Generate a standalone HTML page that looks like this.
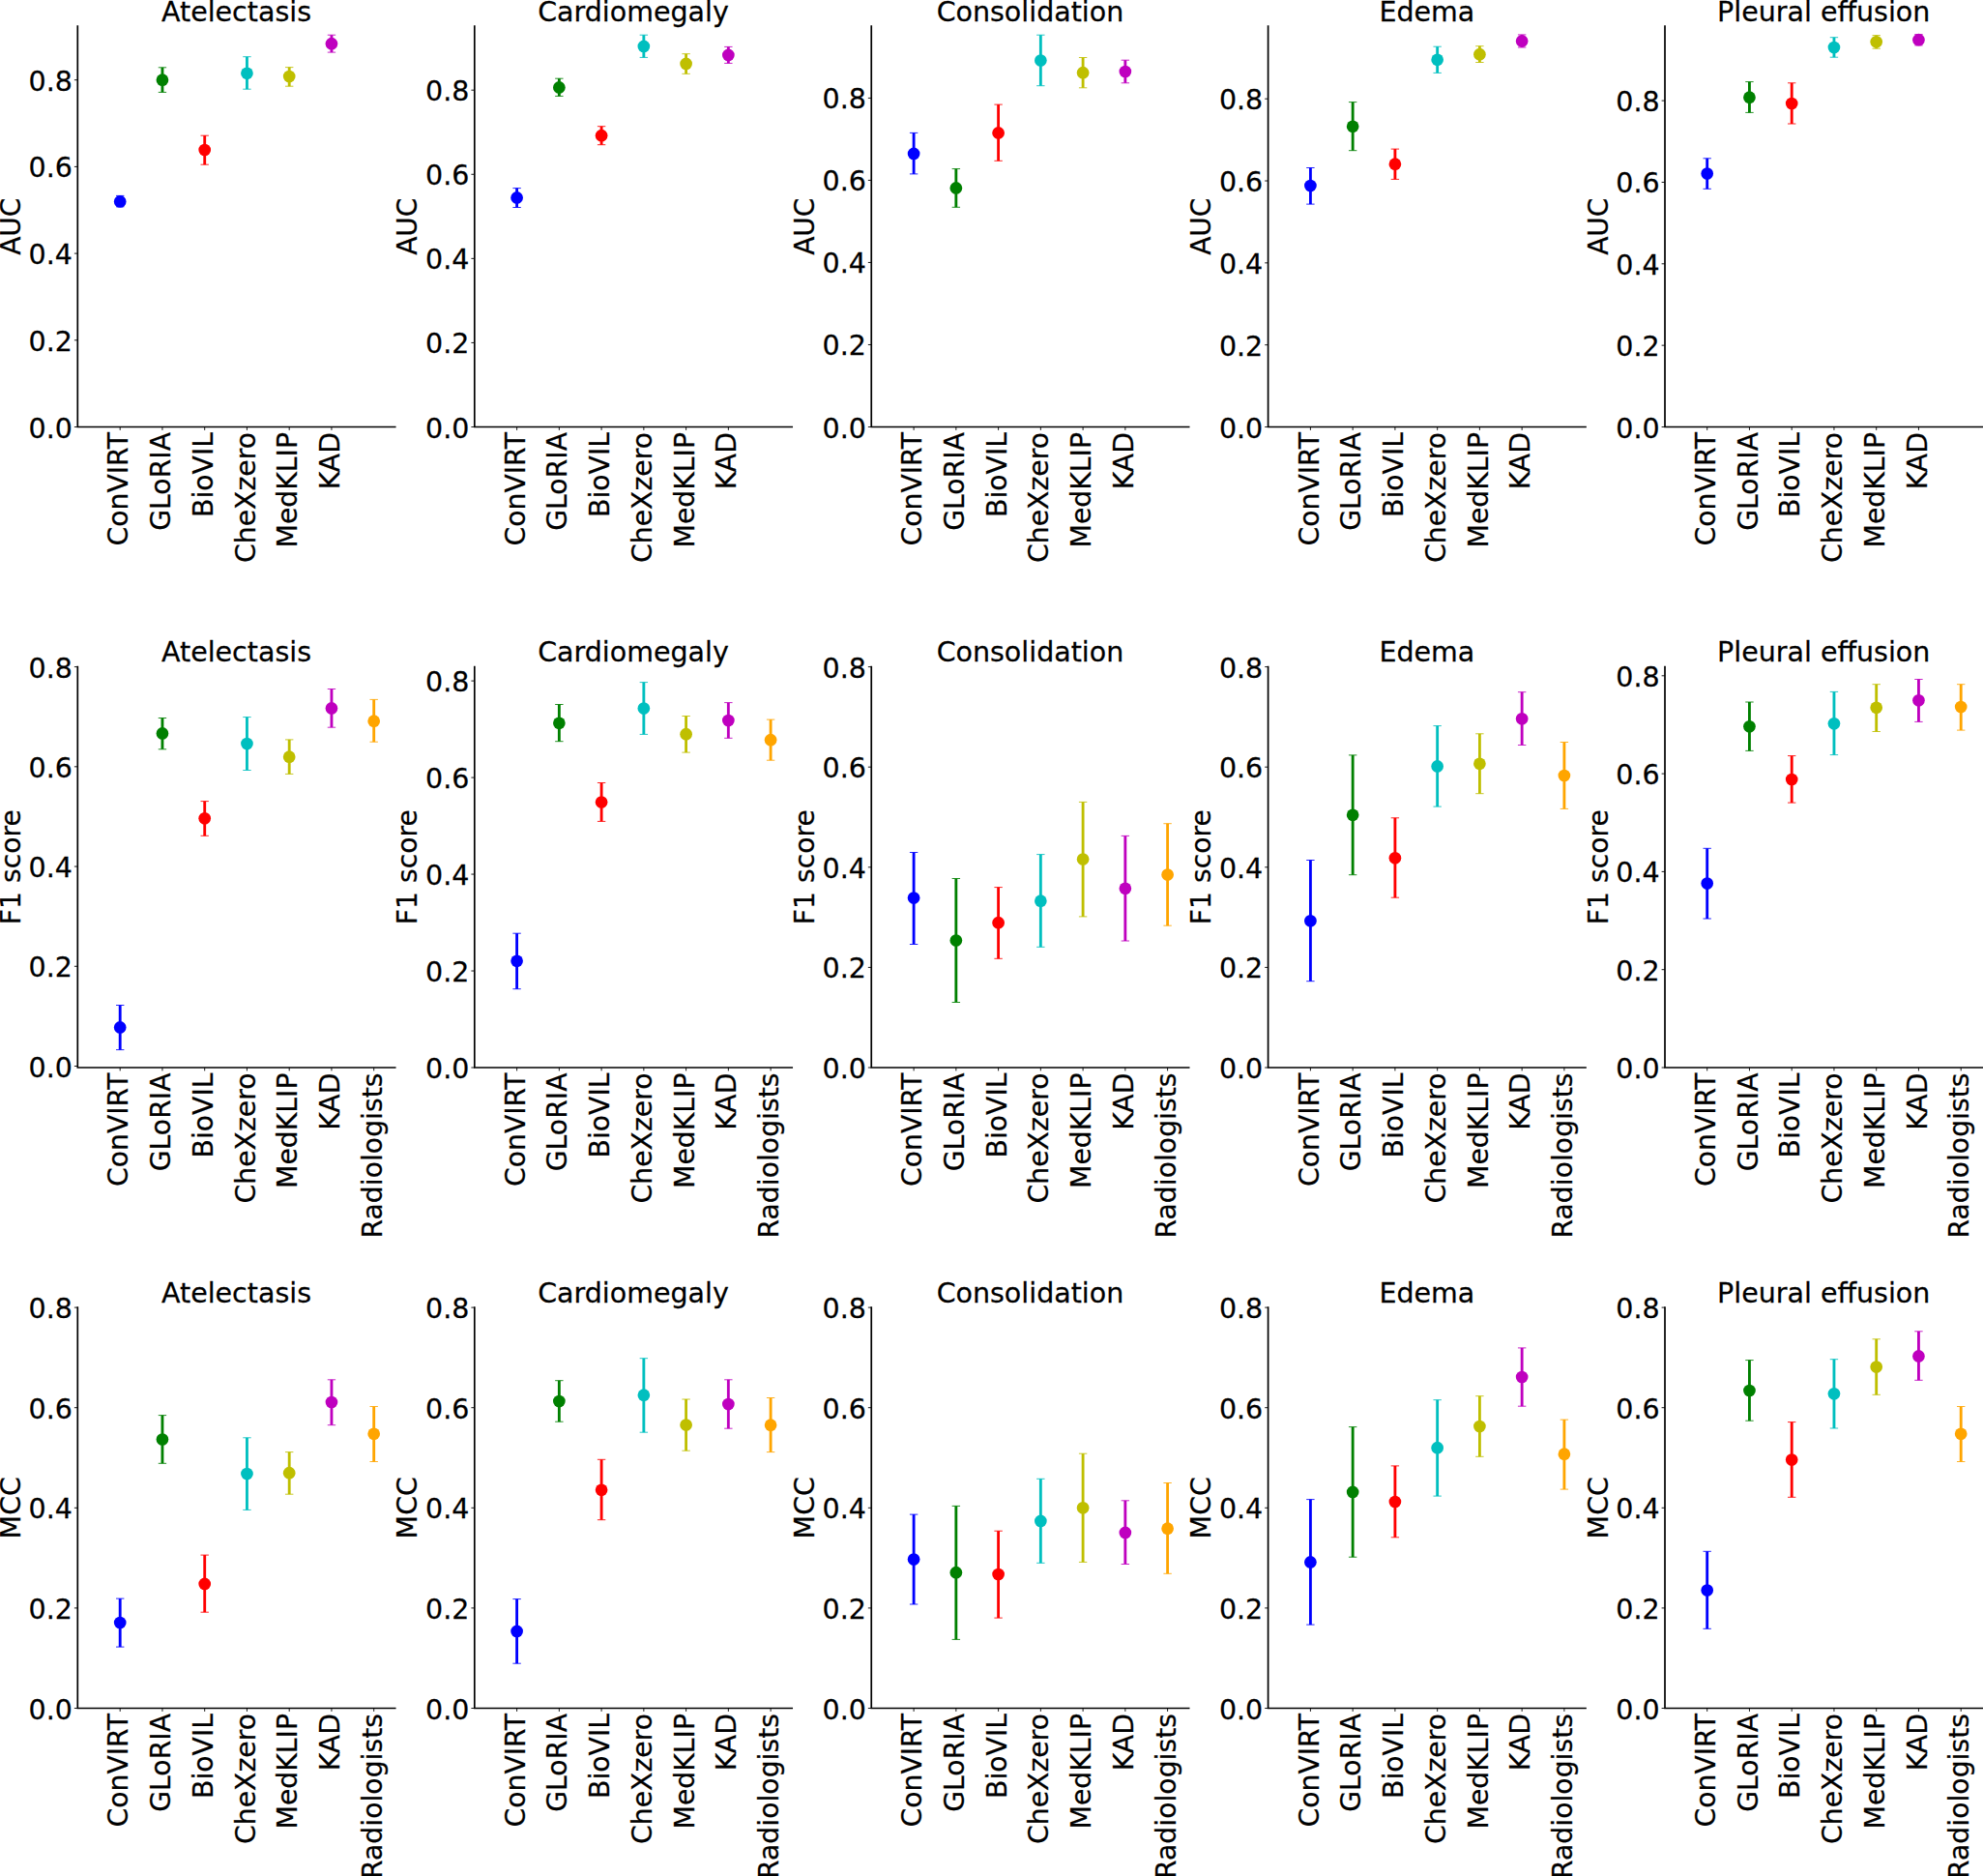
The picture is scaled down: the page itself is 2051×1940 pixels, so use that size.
<!DOCTYPE html>
<html lang="en"><head><meta charset="utf-8"><title>Zero-shot comparison: AUC, F1 score, MCC</title>
<style>html,body{margin:0;padding:0;background:#fff}svg{display:block}text{font-family:"DejaVu Sans","Liberation Sans",sans-serif;font-size:29.17px;fill:#000;stroke:#000;stroke-width:0.25px}.sp{stroke:#000;stroke-width:1.7;stroke-linecap:square;fill:none}.tk{stroke:#000;stroke-width:0.9;fill:none}.e{stroke-width:2.85;fill:none}.c{stroke-width:0.85;fill:none}.yl{text-anchor:end}.ti,.ax{text-anchor:middle}.xl{text-anchor:end}</style></head><body>
<svg width="2051" height="1940" viewBox="0 0 2051 1940">
<rect width="2051" height="1940" fill="#fff"/>
<g>
<text class="ti" transform="translate(244.5,21.7) scale(0.977,1)">Atelectasis</text>
<text class="ax" transform="translate(20.95,234.2) rotate(-90) scale(0.962,1)">AUC</text>
<path class="sp" d="M80.3 27.1V441.5H408.7"/>
<text class="yl" transform="translate(74.9,452.5) scale(0.977,1)">0.0</text>
<text class="yl" transform="translate(74.9,362.8) scale(0.977,1)">0.2</text>
<text class="yl" transform="translate(74.9,273.1) scale(0.977,1)">0.4</text>
<text class="yl" transform="translate(74.9,183.4) scale(0.977,1)">0.6</text>
<text class="yl" transform="translate(74.9,93.7) scale(0.977,1)">0.8</text>
<path class="tk" d="M76.9 441.5h3.4M76.9 351.8h3.4M76.9 262.1h3.4M76.9 172.4h3.4M76.9 82.7h3.4M124.2 441.5v3.4M167.95 441.5v3.4M211.7 441.5v3.4M255.45 441.5v3.4M299.2 441.5v3.4M342.95 441.5v3.4"/>
<text class="xl" transform="translate(132.3,447) rotate(-90) scale(0.97,1)">ConVIRT</text>
<text class="xl" transform="translate(176.05,447) rotate(-90) scale(0.97,1)">GLoRIA</text>
<text class="xl" transform="translate(219.8,447) rotate(-90) scale(0.97,1)">BioVIL</text>
<text class="xl" transform="translate(263.55,447) rotate(-90) scale(0.97,1)">CheXzero</text>
<text class="xl" transform="translate(307.3,447) rotate(-90) scale(0.97,1)">MedKLIP</text>
<text class="xl" transform="translate(351.05,447) rotate(-90) scale(0.97,1)">KAD</text>
<g stroke="#0000ff" fill="#0000ff"><path class="e" d="M124.2 202.4V213.8"/><path class="c" d="M120 202.4h8.4M120 213.8h8.4"/><circle cx="124.2" cy="208.4" r="6.35" stroke="none"/></g>
<g stroke="#008000" fill="#008000"><path class="e" d="M167.95 69.8V95.4"/><path class="c" d="M163.75 69.8h8.4M163.75 95.4h8.4"/><circle cx="167.95" cy="82.7" r="6.35" stroke="none"/></g>
<g stroke="#ff0000" fill="#ff0000"><path class="e" d="M211.7 140.2V170.2"/><path class="c" d="M207.5 140.2h8.4M207.5 170.2h8.4"/><circle cx="211.7" cy="155" r="6.35" stroke="none"/></g>
<g stroke="#00bfbf" fill="#00bfbf"><path class="e" d="M255.45 58.7V92.2"/><path class="c" d="M251.25 58.7h8.4M251.25 92.2h8.4"/><circle cx="255.45" cy="75.8" r="6.35" stroke="none"/></g>
<g stroke="#bfbf00" fill="#bfbf00"><path class="e" d="M299.2 69.6V89.2"/><path class="c" d="M295 69.6h8.4M295 89.2h8.4"/><circle cx="299.2" cy="79.1" r="6.35" stroke="none"/></g>
<g stroke="#bf00bf" fill="#bf00bf"><path class="e" d="M342.95 36.2V54.1"/><path class="c" d="M338.75 36.2h8.4M338.75 54.1h8.4"/><circle cx="342.95" cy="45.2" r="6.35" stroke="none"/></g>
</g>
<g>
<text class="ti" transform="translate(655,21.7) scale(0.977,1)">Cardiomegaly</text>
<text class="ax" transform="translate(431.45,234.2) rotate(-90) scale(0.962,1)">AUC</text>
<path class="sp" d="M490.8 27.1V441.5H819.2"/>
<text class="yl" transform="translate(485.4,452.5) scale(0.977,1)">0.0</text>
<text class="yl" transform="translate(485.4,365.43) scale(0.977,1)">0.2</text>
<text class="yl" transform="translate(485.4,278.35) scale(0.977,1)">0.4</text>
<text class="yl" transform="translate(485.4,191.27) scale(0.977,1)">0.6</text>
<text class="yl" transform="translate(485.4,104.2) scale(0.977,1)">0.8</text>
<path class="tk" d="M487.4 441.5h3.4M487.4 354.43h3.4M487.4 267.35h3.4M487.4 180.27h3.4M487.4 93.2h3.4M534.6 441.5v3.4M578.35 441.5v3.4M622.1 441.5v3.4M665.85 441.5v3.4M709.6 441.5v3.4M753.35 441.5v3.4"/>
<text class="xl" transform="translate(542.7,447) rotate(-90) scale(0.97,1)">ConVIRT</text>
<text class="xl" transform="translate(586.45,447) rotate(-90) scale(0.97,1)">GLoRIA</text>
<text class="xl" transform="translate(630.2,447) rotate(-90) scale(0.97,1)">BioVIL</text>
<text class="xl" transform="translate(673.95,447) rotate(-90) scale(0.97,1)">CheXzero</text>
<text class="xl" transform="translate(717.7,447) rotate(-90) scale(0.97,1)">MedKLIP</text>
<text class="xl" transform="translate(761.45,447) rotate(-90) scale(0.97,1)">KAD</text>
<g stroke="#0000ff" fill="#0000ff"><path class="e" d="M534.6 194.6V214.5"/><path class="c" d="M530.4 194.6h8.4M530.4 214.5h8.4"/><circle cx="534.6" cy="204.4" r="6.35" stroke="none"/></g>
<g stroke="#008000" fill="#008000"><path class="e" d="M578.35 81.2V99.4"/><path class="c" d="M574.15 81.2h8.4M574.15 99.4h8.4"/><circle cx="578.35" cy="90.4" r="6.35" stroke="none"/></g>
<g stroke="#ff0000" fill="#ff0000"><path class="e" d="M622.1 130.7V149.7"/><path class="c" d="M617.9 130.7h8.4M617.9 149.7h8.4"/><circle cx="622.1" cy="140.2" r="6.35" stroke="none"/></g>
<g stroke="#00bfbf" fill="#00bfbf"><path class="e" d="M665.85 36.2V59.4"/><path class="c" d="M661.65 36.2h8.4M661.65 59.4h8.4"/><circle cx="665.85" cy="47.9" r="6.35" stroke="none"/></g>
<g stroke="#bfbf00" fill="#bfbf00"><path class="e" d="M709.6 55.7V76.3"/><path class="c" d="M705.4 55.7h8.4M705.4 76.3h8.4"/><circle cx="709.6" cy="65.9" r="6.35" stroke="none"/></g>
<g stroke="#bf00bf" fill="#bf00bf"><path class="e" d="M753.35 48.4V65.4"/><path class="c" d="M749.15 48.4h8.4M749.15 65.4h8.4"/><circle cx="753.35" cy="56.9" r="6.35" stroke="none"/></g>
</g>
<g>
<text class="ti" transform="translate(1065.45,21.7) scale(0.977,1)">Consolidation</text>
<text class="ax" transform="translate(841.9,234.2) rotate(-90) scale(0.962,1)">AUC</text>
<path class="sp" d="M901.25 27.1V441.5H1229.65"/>
<text class="yl" transform="translate(895.85,452.5) scale(0.977,1)">0.0</text>
<text class="yl" transform="translate(895.85,367.48) scale(0.977,1)">0.2</text>
<text class="yl" transform="translate(895.85,282.45) scale(0.977,1)">0.4</text>
<text class="yl" transform="translate(895.85,197.42) scale(0.977,1)">0.6</text>
<text class="yl" transform="translate(895.85,112.4) scale(0.977,1)">0.8</text>
<path class="tk" d="M897.85 441.5h3.4M897.85 356.48h3.4M897.85 271.45h3.4M897.85 186.42h3.4M897.85 101.4h3.4M945.1 441.5v3.4M988.85 441.5v3.4M1032.6 441.5v3.4M1076.35 441.5v3.4M1120.1 441.5v3.4M1163.85 441.5v3.4"/>
<text class="xl" transform="translate(953.2,447) rotate(-90) scale(0.97,1)">ConVIRT</text>
<text class="xl" transform="translate(996.95,447) rotate(-90) scale(0.97,1)">GLoRIA</text>
<text class="xl" transform="translate(1040.7,447) rotate(-90) scale(0.97,1)">BioVIL</text>
<text class="xl" transform="translate(1084.45,447) rotate(-90) scale(0.97,1)">CheXzero</text>
<text class="xl" transform="translate(1128.2,447) rotate(-90) scale(0.97,1)">MedKLIP</text>
<text class="xl" transform="translate(1171.95,447) rotate(-90) scale(0.97,1)">KAD</text>
<g stroke="#0000ff" fill="#0000ff"><path class="e" d="M945.1 137.4V179.9"/><path class="c" d="M940.9 137.4h8.4M940.9 179.9h8.4"/><circle cx="945.1" cy="158.9" r="6.35" stroke="none"/></g>
<g stroke="#008000" fill="#008000"><path class="e" d="M988.85 174.6V214.3"/><path class="c" d="M984.65 174.6h8.4M984.65 214.3h8.4"/><circle cx="988.85" cy="194.4" r="6.35" stroke="none"/></g>
<g stroke="#ff0000" fill="#ff0000"><path class="e" d="M1032.6 108.1V166.3"/><path class="c" d="M1028.4 108.1h8.4M1028.4 166.3h8.4"/><circle cx="1032.6" cy="137.4" r="6.35" stroke="none"/></g>
<g stroke="#00bfbf" fill="#00bfbf"><path class="e" d="M1076.35 36.2V88.7"/><path class="c" d="M1072.15 36.2h8.4M1072.15 88.7h8.4"/><circle cx="1076.35" cy="62.5" r="6.35" stroke="none"/></g>
<g stroke="#bfbf00" fill="#bfbf00"><path class="e" d="M1120.1 59.5V90.8"/><path class="c" d="M1115.9 59.5h8.4M1115.9 90.8h8.4"/><circle cx="1120.1" cy="75.2" r="6.35" stroke="none"/></g>
<g stroke="#bf00bf" fill="#bf00bf"><path class="e" d="M1163.85 62.2V85.8"/><path class="c" d="M1159.65 62.2h8.4M1159.65 85.8h8.4"/><circle cx="1163.85" cy="74" r="6.35" stroke="none"/></g>
</g>
<g>
<text class="ti" transform="translate(1475.8,21.7) scale(0.977,1)">Edema</text>
<text class="ax" transform="translate(1252.25,234.2) rotate(-90) scale(0.962,1)">AUC</text>
<path class="sp" d="M1311.6 27.1V441.5H1640"/>
<text class="yl" transform="translate(1306.2,452.5) scale(0.977,1)">0.0</text>
<text class="yl" transform="translate(1306.2,367.68) scale(0.977,1)">0.2</text>
<text class="yl" transform="translate(1306.2,282.85) scale(0.977,1)">0.4</text>
<text class="yl" transform="translate(1306.2,198.02) scale(0.977,1)">0.6</text>
<text class="yl" transform="translate(1306.2,113.2) scale(0.977,1)">0.8</text>
<path class="tk" d="M1308.2 441.5h3.4M1308.2 356.68h3.4M1308.2 271.85h3.4M1308.2 187.02h3.4M1308.2 102.2h3.4M1355.4 441.5v3.4M1399.15 441.5v3.4M1442.9 441.5v3.4M1486.65 441.5v3.4M1530.4 441.5v3.4M1574.15 441.5v3.4"/>
<text class="xl" transform="translate(1363.5,447) rotate(-90) scale(0.97,1)">ConVIRT</text>
<text class="xl" transform="translate(1407.25,447) rotate(-90) scale(0.97,1)">GLoRIA</text>
<text class="xl" transform="translate(1451,447) rotate(-90) scale(0.97,1)">BioVIL</text>
<text class="xl" transform="translate(1494.75,447) rotate(-90) scale(0.97,1)">CheXzero</text>
<text class="xl" transform="translate(1538.5,447) rotate(-90) scale(0.97,1)">MedKLIP</text>
<text class="xl" transform="translate(1582.25,447) rotate(-90) scale(0.97,1)">KAD</text>
<g stroke="#0000ff" fill="#0000ff"><path class="e" d="M1355.4 173.5V211.1"/><path class="c" d="M1351.2 173.5h8.4M1351.2 211.1h8.4"/><circle cx="1355.4" cy="192.1" r="6.35" stroke="none"/></g>
<g stroke="#008000" fill="#008000"><path class="e" d="M1399.15 105.6V155.7"/><path class="c" d="M1394.95 105.6h8.4M1394.95 155.7h8.4"/><circle cx="1399.15" cy="130.8" r="6.35" stroke="none"/></g>
<g stroke="#ff0000" fill="#ff0000"><path class="e" d="M1442.9 154.1V185.4"/><path class="c" d="M1438.7 154.1h8.4M1438.7 185.4h8.4"/><circle cx="1442.9" cy="169.7" r="6.35" stroke="none"/></g>
<g stroke="#00bfbf" fill="#00bfbf"><path class="e" d="M1486.65 48.2V75.4"/><path class="c" d="M1482.45 48.2h8.4M1482.45 75.4h8.4"/><circle cx="1486.65" cy="61.8" r="6.35" stroke="none"/></g>
<g stroke="#bfbf00" fill="#bfbf00"><path class="e" d="M1530.4 47.7V64.5"/><path class="c" d="M1526.2 47.7h8.4M1526.2 64.5h8.4"/><circle cx="1530.4" cy="56.2" r="6.35" stroke="none"/></g>
<g stroke="#bf00bf" fill="#bf00bf"><path class="e" d="M1574.15 35.9V49"/><path class="c" d="M1569.95 35.9h8.4M1569.95 49h8.4"/><circle cx="1574.15" cy="42.4" r="6.35" stroke="none"/></g>
</g>
<g>
<text class="ti" transform="translate(1886.2,21.7) scale(0.977,1)">Pleural effusion</text>
<text class="ax" transform="translate(1662.65,234.2) rotate(-90) scale(0.962,1)">AUC</text>
<path class="sp" d="M1722 27.1V441.5H2050.4"/>
<text class="yl" transform="translate(1716.6,452.5) scale(0.977,1)">0.0</text>
<text class="yl" transform="translate(1716.6,368.15) scale(0.977,1)">0.2</text>
<text class="yl" transform="translate(1716.6,283.8) scale(0.977,1)">0.4</text>
<text class="yl" transform="translate(1716.6,199.45) scale(0.977,1)">0.6</text>
<text class="yl" transform="translate(1716.6,115.1) scale(0.977,1)">0.8</text>
<path class="tk" d="M1718.6 441.5h3.4M1718.6 357.15h3.4M1718.6 272.8h3.4M1718.6 188.45h3.4M1718.6 104.1h3.4M1765.7 441.5v3.4M1809.45 441.5v3.4M1853.2 441.5v3.4M1896.95 441.5v3.4M1940.7 441.5v3.4M1984.45 441.5v3.4"/>
<text class="xl" transform="translate(1773.8,447) rotate(-90) scale(0.97,1)">ConVIRT</text>
<text class="xl" transform="translate(1817.55,447) rotate(-90) scale(0.97,1)">GLoRIA</text>
<text class="xl" transform="translate(1861.3,447) rotate(-90) scale(0.97,1)">BioVIL</text>
<text class="xl" transform="translate(1905.05,447) rotate(-90) scale(0.97,1)">CheXzero</text>
<text class="xl" transform="translate(1948.8,447) rotate(-90) scale(0.97,1)">MedKLIP</text>
<text class="xl" transform="translate(1992.55,447) rotate(-90) scale(0.97,1)">KAD</text>
<g stroke="#0000ff" fill="#0000ff"><path class="e" d="M1765.7 163.8V195.3"/><path class="c" d="M1761.5 163.8h8.4M1761.5 195.3h8.4"/><circle cx="1765.7" cy="179.5" r="6.35" stroke="none"/></g>
<g stroke="#008000" fill="#008000"><path class="e" d="M1809.45 84.6V116.4"/><path class="c" d="M1805.25 84.6h8.4M1805.25 116.4h8.4"/><circle cx="1809.45" cy="100.7" r="6.35" stroke="none"/></g>
<g stroke="#ff0000" fill="#ff0000"><path class="e" d="M1853.2 85.8V128"/><path class="c" d="M1849 85.8h8.4M1849 128h8.4"/><circle cx="1853.2" cy="107" r="6.35" stroke="none"/></g>
<g stroke="#00bfbf" fill="#00bfbf"><path class="e" d="M1896.95 38.7V59.2"/><path class="c" d="M1892.75 38.7h8.4M1892.75 59.2h8.4"/><circle cx="1896.95" cy="49.1" r="6.35" stroke="none"/></g>
<g stroke="#bfbf00" fill="#bfbf00"><path class="e" d="M1940.7 36.6V50.2"/><path class="c" d="M1936.5 36.6h8.4M1936.5 50.2h8.4"/><circle cx="1940.7" cy="43.3" r="6.35" stroke="none"/></g>
<g stroke="#bf00bf" fill="#bf00bf"><path class="e" d="M1984.45 35.6V46.9"/><path class="c" d="M1980.25 35.6h8.4M1980.25 46.9h8.4"/><circle cx="1984.45" cy="41.2" r="6.35" stroke="none"/></g>
</g>
<g>
<text class="ti" transform="translate(244.5,684.2) scale(0.977,1)">Atelectasis</text>
<text class="ax" transform="translate(20.95,896.7) rotate(-90) scale(0.968,1)">F1 score</text>
<path class="sp" d="M80.3 689.6V1104H408.7"/>
<text class="yl" transform="translate(74.9,1113.5) scale(0.977,1)">0.0</text>
<text class="yl" transform="translate(74.9,1010.27) scale(0.977,1)">0.2</text>
<text class="yl" transform="translate(74.9,907.05) scale(0.977,1)">0.4</text>
<text class="yl" transform="translate(74.9,803.83) scale(0.977,1)">0.6</text>
<text class="yl" transform="translate(74.9,700.6) scale(0.977,1)">0.8</text>
<path class="tk" d="M76.9 1102.5h3.4M76.9 999.27h3.4M76.9 896.05h3.4M76.9 792.83h3.4M76.9 689.6h3.4M124.2 1104v3.4M167.95 1104v3.4M211.7 1104v3.4M255.45 1104v3.4M299.2 1104v3.4M342.95 1104v3.4M386.7 1104v3.4"/>
<text class="xl" transform="translate(132.3,1109.5) rotate(-90) scale(0.97,1)">ConVIRT</text>
<text class="xl" transform="translate(176.05,1109.5) rotate(-90) scale(0.97,1)">GLoRIA</text>
<text class="xl" transform="translate(219.8,1109.5) rotate(-90) scale(0.97,1)">BioVIL</text>
<text class="xl" transform="translate(263.55,1109.5) rotate(-90) scale(0.97,1)">CheXzero</text>
<text class="xl" transform="translate(307.3,1109.5) rotate(-90) scale(0.97,1)">MedKLIP</text>
<text class="xl" transform="translate(351.05,1109.5) rotate(-90) scale(0.97,1)">KAD</text>
<text class="xl" transform="translate(394.8,1109.5) rotate(-90) scale(0.97,1)">Radiologists</text>
<g stroke="#0000ff" fill="#0000ff"><path class="e" d="M124.2 1039.5V1085.6"/><path class="c" d="M120 1039.5h8.4M120 1085.6h8.4"/><circle cx="124.2" cy="1062.4" r="6.35" stroke="none"/></g>
<g stroke="#008000" fill="#008000"><path class="e" d="M167.95 742.5V774.8"/><path class="c" d="M163.75 742.5h8.4M163.75 774.8h8.4"/><circle cx="167.95" cy="758.4" r="6.35" stroke="none"/></g>
<g stroke="#ff0000" fill="#ff0000"><path class="e" d="M211.7 828.6V864.3"/><path class="c" d="M207.5 828.6h8.4M207.5 864.3h8.4"/><circle cx="211.7" cy="846.3" r="6.35" stroke="none"/></g>
<g stroke="#00bfbf" fill="#00bfbf"><path class="e" d="M255.45 741.6V796.5"/><path class="c" d="M251.25 741.6h8.4M251.25 796.5h8.4"/><circle cx="255.45" cy="769.1" r="6.35" stroke="none"/></g>
<g stroke="#bfbf00" fill="#bfbf00"><path class="e" d="M299.2 764.9V800.4"/><path class="c" d="M295 764.9h8.4M295 800.4h8.4"/><circle cx="299.2" cy="782.7" r="6.35" stroke="none"/></g>
<g stroke="#bf00bf" fill="#bf00bf"><path class="e" d="M342.95 712.5V752.2"/><path class="c" d="M338.75 712.5h8.4M338.75 752.2h8.4"/><circle cx="342.95" cy="732.4" r="6.35" stroke="none"/></g>
<g stroke="#ffa500" fill="#ffa500"><path class="e" d="M386.7 723.4V767.2"/><path class="c" d="M382.5 723.4h8.4M382.5 767.2h8.4"/><circle cx="386.7" cy="745.7" r="6.35" stroke="none"/></g>
</g>
<g>
<text class="ti" transform="translate(655,684.2) scale(0.977,1)">Cardiomegaly</text>
<text class="ax" transform="translate(431.45,896.7) rotate(-90) scale(0.968,1)">F1 score</text>
<path class="sp" d="M490.8 689.6V1104H819.2"/>
<text class="yl" transform="translate(485.4,1115) scale(0.977,1)">0.0</text>
<text class="yl" transform="translate(485.4,1015.02) scale(0.977,1)">0.2</text>
<text class="yl" transform="translate(485.4,915.05) scale(0.977,1)">0.4</text>
<text class="yl" transform="translate(485.4,815.08) scale(0.977,1)">0.6</text>
<text class="yl" transform="translate(485.4,715.1) scale(0.977,1)">0.8</text>
<path class="tk" d="M487.4 1104h3.4M487.4 1004.02h3.4M487.4 904.05h3.4M487.4 804.08h3.4M487.4 704.1h3.4M534.6 1104v3.4M578.35 1104v3.4M622.1 1104v3.4M665.85 1104v3.4M709.6 1104v3.4M753.35 1104v3.4M797.1 1104v3.4"/>
<text class="xl" transform="translate(542.7,1109.5) rotate(-90) scale(0.97,1)">ConVIRT</text>
<text class="xl" transform="translate(586.45,1109.5) rotate(-90) scale(0.97,1)">GLoRIA</text>
<text class="xl" transform="translate(630.2,1109.5) rotate(-90) scale(0.97,1)">BioVIL</text>
<text class="xl" transform="translate(673.95,1109.5) rotate(-90) scale(0.97,1)">CheXzero</text>
<text class="xl" transform="translate(717.7,1109.5) rotate(-90) scale(0.97,1)">MedKLIP</text>
<text class="xl" transform="translate(761.45,1109.5) rotate(-90) scale(0.97,1)">KAD</text>
<text class="xl" transform="translate(805.2,1109.5) rotate(-90) scale(0.97,1)">Radiologists</text>
<g stroke="#0000ff" fill="#0000ff"><path class="e" d="M534.6 965.2V1022.7"/><path class="c" d="M530.4 965.2h8.4M530.4 1022.7h8.4"/><circle cx="534.6" cy="993.8" r="6.35" stroke="none"/></g>
<g stroke="#008000" fill="#008000"><path class="e" d="M578.35 728.5V766.7"/><path class="c" d="M574.15 728.5h8.4M574.15 766.7h8.4"/><circle cx="578.35" cy="747.8" r="6.35" stroke="none"/></g>
<g stroke="#ff0000" fill="#ff0000"><path class="e" d="M622.1 809.5V849.4"/><path class="c" d="M617.9 809.5h8.4M617.9 849.4h8.4"/><circle cx="622.1" cy="829.5" r="6.35" stroke="none"/></g>
<g stroke="#00bfbf" fill="#00bfbf"><path class="e" d="M665.85 705.6V759.4"/><path class="c" d="M661.65 705.6h8.4M661.65 759.4h8.4"/><circle cx="665.85" cy="732.6" r="6.35" stroke="none"/></g>
<g stroke="#bfbf00" fill="#bfbf00"><path class="e" d="M709.6 740.5V778.1"/><path class="c" d="M705.4 740.5h8.4M705.4 778.1h8.4"/><circle cx="709.6" cy="759.2" r="6.35" stroke="none"/></g>
<g stroke="#bf00bf" fill="#bf00bf"><path class="e" d="M753.35 726.6V763.3"/><path class="c" d="M749.15 726.6h8.4M749.15 763.3h8.4"/><circle cx="753.35" cy="745.1" r="6.35" stroke="none"/></g>
<g stroke="#ffa500" fill="#ffa500"><path class="e" d="M797.1 744.1V786.2"/><path class="c" d="M792.9 744.1h8.4M792.9 786.2h8.4"/><circle cx="797.1" cy="765.2" r="6.35" stroke="none"/></g>
</g>
<g>
<text class="ti" transform="translate(1065.45,684.2) scale(0.977,1)">Consolidation</text>
<text class="ax" transform="translate(841.9,896.7) rotate(-90) scale(0.968,1)">F1 score</text>
<path class="sp" d="M901.25 689.6V1104H1229.65"/>
<text class="yl" transform="translate(895.85,1115) scale(0.977,1)">0.0</text>
<text class="yl" transform="translate(895.85,1011.4) scale(0.977,1)">0.2</text>
<text class="yl" transform="translate(895.85,907.8) scale(0.977,1)">0.4</text>
<text class="yl" transform="translate(895.85,804.2) scale(0.977,1)">0.6</text>
<text class="yl" transform="translate(895.85,700.6) scale(0.977,1)">0.8</text>
<path class="tk" d="M897.85 1104h3.4M897.85 1000.4h3.4M897.85 896.8h3.4M897.85 793.2h3.4M897.85 689.6h3.4M945.1 1104v3.4M988.85 1104v3.4M1032.6 1104v3.4M1076.35 1104v3.4M1120.1 1104v3.4M1163.85 1104v3.4M1207.6 1104v3.4"/>
<text class="xl" transform="translate(953.2,1109.5) rotate(-90) scale(0.97,1)">ConVIRT</text>
<text class="xl" transform="translate(996.95,1109.5) rotate(-90) scale(0.97,1)">GLoRIA</text>
<text class="xl" transform="translate(1040.7,1109.5) rotate(-90) scale(0.97,1)">BioVIL</text>
<text class="xl" transform="translate(1084.45,1109.5) rotate(-90) scale(0.97,1)">CheXzero</text>
<text class="xl" transform="translate(1128.2,1109.5) rotate(-90) scale(0.97,1)">MedKLIP</text>
<text class="xl" transform="translate(1171.95,1109.5) rotate(-90) scale(0.97,1)">KAD</text>
<text class="xl" transform="translate(1215.7,1109.5) rotate(-90) scale(0.97,1)">Radiologists</text>
<g stroke="#0000ff" fill="#0000ff"><path class="e" d="M945.1 881.5V976.5"/><path class="c" d="M940.9 881.5h8.4M940.9 976.5h8.4"/><circle cx="945.1" cy="928.6" r="6.35" stroke="none"/></g>
<g stroke="#008000" fill="#008000"><path class="e" d="M988.85 908.5V1036.5"/><path class="c" d="M984.65 908.5h8.4M984.65 1036.5h8.4"/><circle cx="988.85" cy="972.5" r="6.35" stroke="none"/></g>
<g stroke="#ff0000" fill="#ff0000"><path class="e" d="M1032.6 917.6V991.3"/><path class="c" d="M1028.4 917.6h8.4M1028.4 991.3h8.4"/><circle cx="1032.6" cy="954.2" r="6.35" stroke="none"/></g>
<g stroke="#00bfbf" fill="#00bfbf"><path class="e" d="M1076.35 883.6V979.3"/><path class="c" d="M1072.15 883.6h8.4M1072.15 979.3h8.4"/><circle cx="1076.35" cy="931.7" r="6.35" stroke="none"/></g>
<g stroke="#bfbf00" fill="#bfbf00"><path class="e" d="M1120.1 829.4V947.9"/><path class="c" d="M1115.9 829.4h8.4M1115.9 947.9h8.4"/><circle cx="1120.1" cy="888.5" r="6.35" stroke="none"/></g>
<g stroke="#bf00bf" fill="#bf00bf"><path class="e" d="M1163.85 864.4V973"/><path class="c" d="M1159.65 864.4h8.4M1159.65 973h8.4"/><circle cx="1163.85" cy="918.8" r="6.35" stroke="none"/></g>
<g stroke="#ffa500" fill="#ffa500"><path class="e" d="M1207.6 851.7V957.2"/><path class="c" d="M1203.4 851.7h8.4M1203.4 957.2h8.4"/><circle cx="1207.6" cy="904.5" r="6.35" stroke="none"/></g>
</g>
<g>
<text class="ti" transform="translate(1475.8,684.2) scale(0.977,1)">Edema</text>
<text class="ax" transform="translate(1252.25,896.7) rotate(-90) scale(0.968,1)">F1 score</text>
<path class="sp" d="M1311.6 689.6V1104H1640"/>
<text class="yl" transform="translate(1306.2,1115) scale(0.977,1)">0.0</text>
<text class="yl" transform="translate(1306.2,1011.4) scale(0.977,1)">0.2</text>
<text class="yl" transform="translate(1306.2,907.8) scale(0.977,1)">0.4</text>
<text class="yl" transform="translate(1306.2,804.2) scale(0.977,1)">0.6</text>
<text class="yl" transform="translate(1306.2,700.6) scale(0.977,1)">0.8</text>
<path class="tk" d="M1308.2 1104h3.4M1308.2 1000.4h3.4M1308.2 896.8h3.4M1308.2 793.2h3.4M1308.2 689.6h3.4M1355.4 1104v3.4M1399.15 1104v3.4M1442.9 1104v3.4M1486.65 1104v3.4M1530.4 1104v3.4M1574.15 1104v3.4M1617.9 1104v3.4"/>
<text class="xl" transform="translate(1363.5,1109.5) rotate(-90) scale(0.97,1)">ConVIRT</text>
<text class="xl" transform="translate(1407.25,1109.5) rotate(-90) scale(0.97,1)">GLoRIA</text>
<text class="xl" transform="translate(1451,1109.5) rotate(-90) scale(0.97,1)">BioVIL</text>
<text class="xl" transform="translate(1494.75,1109.5) rotate(-90) scale(0.97,1)">CheXzero</text>
<text class="xl" transform="translate(1538.5,1109.5) rotate(-90) scale(0.97,1)">MedKLIP</text>
<text class="xl" transform="translate(1582.25,1109.5) rotate(-90) scale(0.97,1)">KAD</text>
<text class="xl" transform="translate(1626,1109.5) rotate(-90) scale(0.97,1)">Radiologists</text>
<g stroke="#0000ff" fill="#0000ff"><path class="e" d="M1355.4 889.5V1014.7"/><path class="c" d="M1351.2 889.5h8.4M1351.2 1014.7h8.4"/><circle cx="1355.4" cy="952.3" r="6.35" stroke="none"/></g>
<g stroke="#008000" fill="#008000"><path class="e" d="M1399.15 780.9V904.7"/><path class="c" d="M1394.95 780.9h8.4M1394.95 904.7h8.4"/><circle cx="1399.15" cy="842.8" r="6.35" stroke="none"/></g>
<g stroke="#ff0000" fill="#ff0000"><path class="e" d="M1442.9 845.8V928.2"/><path class="c" d="M1438.7 845.8h8.4M1438.7 928.2h8.4"/><circle cx="1442.9" cy="887.3" r="6.35" stroke="none"/></g>
<g stroke="#00bfbf" fill="#00bfbf"><path class="e" d="M1486.65 750.6V834.1"/><path class="c" d="M1482.45 750.6h8.4M1482.45 834.1h8.4"/><circle cx="1486.65" cy="792.4" r="6.35" stroke="none"/></g>
<g stroke="#bfbf00" fill="#bfbf00"><path class="e" d="M1530.4 758.8V820.7"/><path class="c" d="M1526.2 758.8h8.4M1526.2 820.7h8.4"/><circle cx="1530.4" cy="789.8" r="6.35" stroke="none"/></g>
<g stroke="#bf00bf" fill="#bf00bf"><path class="e" d="M1574.15 715.7V770.5"/><path class="c" d="M1569.95 715.7h8.4M1569.95 770.5h8.4"/><circle cx="1574.15" cy="743.3" r="6.35" stroke="none"/></g>
<g stroke="#ffa500" fill="#ffa500"><path class="e" d="M1617.9 767.5V836.4"/><path class="c" d="M1613.7 767.5h8.4M1613.7 836.4h8.4"/><circle cx="1617.9" cy="802" r="6.35" stroke="none"/></g>
</g>
<g>
<text class="ti" transform="translate(1886.2,684.2) scale(0.977,1)">Pleural effusion</text>
<text class="ax" transform="translate(1662.65,896.7) rotate(-90) scale(0.968,1)">F1 score</text>
<path class="sp" d="M1722 689.6V1104H2050.4"/>
<text class="yl" transform="translate(1716.6,1115) scale(0.977,1)">0.0</text>
<text class="yl" transform="translate(1716.6,1013.7) scale(0.977,1)">0.2</text>
<text class="yl" transform="translate(1716.6,912.4) scale(0.977,1)">0.4</text>
<text class="yl" transform="translate(1716.6,811.1) scale(0.977,1)">0.6</text>
<text class="yl" transform="translate(1716.6,709.8) scale(0.977,1)">0.8</text>
<path class="tk" d="M1718.6 1104h3.4M1718.6 1002.7h3.4M1718.6 901.4h3.4M1718.6 800.1h3.4M1718.6 698.8h3.4M1765.7 1104v3.4M1809.45 1104v3.4M1853.2 1104v3.4M1896.95 1104v3.4M1940.7 1104v3.4M1984.45 1104v3.4M2028.2 1104v3.4"/>
<text class="xl" transform="translate(1773.8,1109.5) rotate(-90) scale(0.97,1)">ConVIRT</text>
<text class="xl" transform="translate(1817.55,1109.5) rotate(-90) scale(0.97,1)">GLoRIA</text>
<text class="xl" transform="translate(1861.3,1109.5) rotate(-90) scale(0.97,1)">BioVIL</text>
<text class="xl" transform="translate(1905.05,1109.5) rotate(-90) scale(0.97,1)">CheXzero</text>
<text class="xl" transform="translate(1948.8,1109.5) rotate(-90) scale(0.97,1)">MedKLIP</text>
<text class="xl" transform="translate(1992.55,1109.5) rotate(-90) scale(0.97,1)">KAD</text>
<text class="xl" transform="translate(2036.3,1109.5) rotate(-90) scale(0.97,1)">Radiologists</text>
<g stroke="#0000ff" fill="#0000ff"><path class="e" d="M1765.7 877.3V950"/><path class="c" d="M1761.5 877.3h8.4M1761.5 950h8.4"/><circle cx="1765.7" cy="913.6" r="6.35" stroke="none"/></g>
<g stroke="#008000" fill="#008000"><path class="e" d="M1809.45 726V776.4"/><path class="c" d="M1805.25 726h8.4M1805.25 776.4h8.4"/><circle cx="1809.45" cy="751.3" r="6.35" stroke="none"/></g>
<g stroke="#ff0000" fill="#ff0000"><path class="e" d="M1853.2 781.6V830.1"/><path class="c" d="M1849 781.6h8.4M1849 830.1h8.4"/><circle cx="1853.2" cy="806" r="6.35" stroke="none"/></g>
<g stroke="#00bfbf" fill="#00bfbf"><path class="e" d="M1896.95 715.4V780.6"/><path class="c" d="M1892.75 715.4h8.4M1892.75 780.6h8.4"/><circle cx="1896.95" cy="748.3" r="6.35" stroke="none"/></g>
<g stroke="#bfbf00" fill="#bfbf00"><path class="e" d="M1940.7 707.7V756.5"/><path class="c" d="M1936.5 707.7h8.4M1936.5 756.5h8.4"/><circle cx="1940.7" cy="731.8" r="6.35" stroke="none"/></g>
<g stroke="#bf00bf" fill="#bf00bf"><path class="e" d="M1984.45 702.5V746.4"/><path class="c" d="M1980.25 702.5h8.4M1980.25 746.4h8.4"/><circle cx="1984.45" cy="724.3" r="6.35" stroke="none"/></g>
<g stroke="#ffa500" fill="#ffa500"><path class="e" d="M2028.2 707.7V755.1"/><path class="c" d="M2024 707.7h8.4M2024 755.1h8.4"/><circle cx="2028.2" cy="731.1" r="6.35" stroke="none"/></g>
</g>
<g>
<text class="ti" transform="translate(244.5,1346.7) scale(0.977,1)">Atelectasis</text>
<text class="ax" transform="translate(20.95,1559.2) rotate(-90) scale(0.977,1)">MCC</text>
<path class="sp" d="M80.3 1352.1V1766.5H408.7"/>
<text class="yl" transform="translate(74.9,1777.5) scale(0.977,1)">0.0</text>
<text class="yl" transform="translate(74.9,1673.9) scale(0.977,1)">0.2</text>
<text class="yl" transform="translate(74.9,1570.3) scale(0.977,1)">0.4</text>
<text class="yl" transform="translate(74.9,1466.7) scale(0.977,1)">0.6</text>
<text class="yl" transform="translate(74.9,1363.1) scale(0.977,1)">0.8</text>
<path class="tk" d="M76.9 1766.5h3.4M76.9 1662.9h3.4M76.9 1559.3h3.4M76.9 1455.7h3.4M76.9 1352.1h3.4M124.2 1766.5v3.4M167.95 1766.5v3.4M211.7 1766.5v3.4M255.45 1766.5v3.4M299.2 1766.5v3.4M342.95 1766.5v3.4M386.7 1766.5v3.4"/>
<text class="xl" transform="translate(132.3,1772) rotate(-90) scale(0.97,1)">ConVIRT</text>
<text class="xl" transform="translate(176.05,1772) rotate(-90) scale(0.97,1)">GLoRIA</text>
<text class="xl" transform="translate(219.8,1772) rotate(-90) scale(0.97,1)">BioVIL</text>
<text class="xl" transform="translate(263.55,1772) rotate(-90) scale(0.97,1)">CheXzero</text>
<text class="xl" transform="translate(307.3,1772) rotate(-90) scale(0.97,1)">MedKLIP</text>
<text class="xl" transform="translate(351.05,1772) rotate(-90) scale(0.97,1)">KAD</text>
<text class="xl" transform="translate(394.8,1772) rotate(-90) scale(0.97,1)">Radiologists</text>
<g stroke="#0000ff" fill="#0000ff"><path class="e" d="M124.2 1653.1V1703.1"/><path class="c" d="M120 1653.1h8.4M120 1703.1h8.4"/><circle cx="124.2" cy="1678" r="6.35" stroke="none"/></g>
<g stroke="#008000" fill="#008000"><path class="e" d="M167.95 1463.6V1513.3"/><path class="c" d="M163.75 1463.6h8.4M163.75 1513.3h8.4"/><circle cx="167.95" cy="1488.5" r="6.35" stroke="none"/></g>
<g stroke="#ff0000" fill="#ff0000"><path class="e" d="M211.7 1608.1V1667.2"/><path class="c" d="M207.5 1608.1h8.4M207.5 1667.2h8.4"/><circle cx="211.7" cy="1637.9" r="6.35" stroke="none"/></g>
<g stroke="#00bfbf" fill="#00bfbf"><path class="e" d="M255.45 1486.8V1561.4"/><path class="c" d="M251.25 1486.8h8.4M251.25 1561.4h8.4"/><circle cx="255.45" cy="1524.1" r="6.35" stroke="none"/></g>
<g stroke="#bfbf00" fill="#bfbf00"><path class="e" d="M299.2 1501.6V1545.2"/><path class="c" d="M295 1501.6h8.4M295 1545.2h8.4"/><circle cx="299.2" cy="1523.2" r="6.35" stroke="none"/></g>
<g stroke="#bf00bf" fill="#bf00bf"><path class="e" d="M342.95 1426.8V1473.7"/><path class="c" d="M338.75 1426.8h8.4M338.75 1473.7h8.4"/><circle cx="342.95" cy="1450" r="6.35" stroke="none"/></g>
<g stroke="#ffa500" fill="#ffa500"><path class="e" d="M386.7 1454.5V1511.5"/><path class="c" d="M382.5 1454.5h8.4M382.5 1511.5h8.4"/><circle cx="386.7" cy="1482.8" r="6.35" stroke="none"/></g>
</g>
<g>
<text class="ti" transform="translate(655,1346.7) scale(0.977,1)">Cardiomegaly</text>
<text class="ax" transform="translate(431.45,1559.2) rotate(-90) scale(0.977,1)">MCC</text>
<path class="sp" d="M490.8 1352.1V1766.5H819.2"/>
<text class="yl" transform="translate(485.4,1777.5) scale(0.977,1)">0.0</text>
<text class="yl" transform="translate(485.4,1673.9) scale(0.977,1)">0.2</text>
<text class="yl" transform="translate(485.4,1570.3) scale(0.977,1)">0.4</text>
<text class="yl" transform="translate(485.4,1466.7) scale(0.977,1)">0.6</text>
<text class="yl" transform="translate(485.4,1363.1) scale(0.977,1)">0.8</text>
<path class="tk" d="M487.4 1766.5h3.4M487.4 1662.9h3.4M487.4 1559.3h3.4M487.4 1455.7h3.4M487.4 1352.1h3.4M534.6 1766.5v3.4M578.35 1766.5v3.4M622.1 1766.5v3.4M665.85 1766.5v3.4M709.6 1766.5v3.4M753.35 1766.5v3.4M797.1 1766.5v3.4"/>
<text class="xl" transform="translate(542.7,1772) rotate(-90) scale(0.97,1)">ConVIRT</text>
<text class="xl" transform="translate(586.45,1772) rotate(-90) scale(0.97,1)">GLoRIA</text>
<text class="xl" transform="translate(630.2,1772) rotate(-90) scale(0.97,1)">BioVIL</text>
<text class="xl" transform="translate(673.95,1772) rotate(-90) scale(0.97,1)">CheXzero</text>
<text class="xl" transform="translate(717.7,1772) rotate(-90) scale(0.97,1)">MedKLIP</text>
<text class="xl" transform="translate(761.45,1772) rotate(-90) scale(0.97,1)">KAD</text>
<text class="xl" transform="translate(805.2,1772) rotate(-90) scale(0.97,1)">Radiologists</text>
<g stroke="#0000ff" fill="#0000ff"><path class="e" d="M534.6 1653.6V1720.2"/><path class="c" d="M530.4 1653.6h8.4M530.4 1720.2h8.4"/><circle cx="534.6" cy="1686.9" r="6.35" stroke="none"/></g>
<g stroke="#008000" fill="#008000"><path class="e" d="M578.35 1427.7V1470.2"/><path class="c" d="M574.15 1427.7h8.4M574.15 1470.2h8.4"/><circle cx="578.35" cy="1449.1" r="6.35" stroke="none"/></g>
<g stroke="#ff0000" fill="#ff0000"><path class="e" d="M622.1 1509.3V1571.7"/><path class="c" d="M617.9 1509.3h8.4M617.9 1571.7h8.4"/><circle cx="622.1" cy="1540.8" r="6.35" stroke="none"/></g>
<g stroke="#00bfbf" fill="#00bfbf"><path class="e" d="M665.85 1404.7V1481.2"/><path class="c" d="M661.65 1404.7h8.4M661.65 1481.2h8.4"/><circle cx="665.85" cy="1442.7" r="6.35" stroke="none"/></g>
<g stroke="#bfbf00" fill="#bfbf00"><path class="e" d="M709.6 1447V1500.2"/><path class="c" d="M705.4 1447h8.4M705.4 1500.2h8.4"/><circle cx="709.6" cy="1473.5" r="6.35" stroke="none"/></g>
<g stroke="#bf00bf" fill="#bf00bf"><path class="e" d="M753.35 1426.8V1477.2"/><path class="c" d="M749.15 1426.8h8.4M749.15 1477.2h8.4"/><circle cx="753.35" cy="1452.1" r="6.35" stroke="none"/></g>
<g stroke="#ffa500" fill="#ffa500"><path class="e" d="M797.1 1445.5V1501.6"/><path class="c" d="M792.9 1445.5h8.4M792.9 1501.6h8.4"/><circle cx="797.1" cy="1473.7" r="6.35" stroke="none"/></g>
</g>
<g>
<text class="ti" transform="translate(1065.45,1346.7) scale(0.977,1)">Consolidation</text>
<text class="ax" transform="translate(841.9,1559.2) rotate(-90) scale(0.977,1)">MCC</text>
<path class="sp" d="M901.25 1352.1V1766.5H1229.65"/>
<text class="yl" transform="translate(895.85,1777.5) scale(0.977,1)">0.0</text>
<text class="yl" transform="translate(895.85,1673.9) scale(0.977,1)">0.2</text>
<text class="yl" transform="translate(895.85,1570.3) scale(0.977,1)">0.4</text>
<text class="yl" transform="translate(895.85,1466.7) scale(0.977,1)">0.6</text>
<text class="yl" transform="translate(895.85,1363.1) scale(0.977,1)">0.8</text>
<path class="tk" d="M897.85 1766.5h3.4M897.85 1662.9h3.4M897.85 1559.3h3.4M897.85 1455.7h3.4M897.85 1352.1h3.4M945.1 1766.5v3.4M988.85 1766.5v3.4M1032.6 1766.5v3.4M1076.35 1766.5v3.4M1120.1 1766.5v3.4M1163.85 1766.5v3.4M1207.6 1766.5v3.4"/>
<text class="xl" transform="translate(953.2,1772) rotate(-90) scale(0.97,1)">ConVIRT</text>
<text class="xl" transform="translate(996.95,1772) rotate(-90) scale(0.97,1)">GLoRIA</text>
<text class="xl" transform="translate(1040.7,1772) rotate(-90) scale(0.97,1)">BioVIL</text>
<text class="xl" transform="translate(1084.45,1772) rotate(-90) scale(0.97,1)">CheXzero</text>
<text class="xl" transform="translate(1128.2,1772) rotate(-90) scale(0.97,1)">MedKLIP</text>
<text class="xl" transform="translate(1171.95,1772) rotate(-90) scale(0.97,1)">KAD</text>
<text class="xl" transform="translate(1215.7,1772) rotate(-90) scale(0.97,1)">Radiologists</text>
<g stroke="#0000ff" fill="#0000ff"><path class="e" d="M945.1 1566.1V1659"/><path class="c" d="M940.9 1566.1h8.4M940.9 1659h8.4"/><circle cx="945.1" cy="1612.6" r="6.35" stroke="none"/></g>
<g stroke="#008000" fill="#008000"><path class="e" d="M988.85 1557.4V1695.4"/><path class="c" d="M984.65 1557.4h8.4M984.65 1695.4h8.4"/><circle cx="988.85" cy="1626.2" r="6.35" stroke="none"/></g>
<g stroke="#ff0000" fill="#ff0000"><path class="e" d="M1032.6 1583.2V1673.1"/><path class="c" d="M1028.4 1583.2h8.4M1028.4 1673.1h8.4"/><circle cx="1032.6" cy="1628" r="6.35" stroke="none"/></g>
<g stroke="#00bfbf" fill="#00bfbf"><path class="e" d="M1076.35 1529.3V1616.3"/><path class="c" d="M1072.15 1529.3h8.4M1072.15 1616.3h8.4"/><circle cx="1076.35" cy="1572.9" r="6.35" stroke="none"/></g>
<g stroke="#bfbf00" fill="#bfbf00"><path class="e" d="M1120.1 1503.2V1615.4"/><path class="c" d="M1115.9 1503.2h8.4M1115.9 1615.4h8.4"/><circle cx="1120.1" cy="1559.3" r="6.35" stroke="none"/></g>
<g stroke="#bf00bf" fill="#bf00bf"><path class="e" d="M1163.85 1551.8V1617.5"/><path class="c" d="M1159.65 1551.8h8.4M1159.65 1617.5h8.4"/><circle cx="1163.85" cy="1584.9" r="6.35" stroke="none"/></g>
<g stroke="#ffa500" fill="#ffa500"><path class="e" d="M1207.6 1533.5V1627.3"/><path class="c" d="M1203.4 1533.5h8.4M1203.4 1627.3h8.4"/><circle cx="1207.6" cy="1580.7" r="6.35" stroke="none"/></g>
</g>
<g>
<text class="ti" transform="translate(1475.8,1346.7) scale(0.977,1)">Edema</text>
<text class="ax" transform="translate(1252.25,1559.2) rotate(-90) scale(0.977,1)">MCC</text>
<path class="sp" d="M1311.6 1352.1V1766.5H1640"/>
<text class="yl" transform="translate(1306.2,1777.5) scale(0.977,1)">0.0</text>
<text class="yl" transform="translate(1306.2,1673.9) scale(0.977,1)">0.2</text>
<text class="yl" transform="translate(1306.2,1570.3) scale(0.977,1)">0.4</text>
<text class="yl" transform="translate(1306.2,1466.7) scale(0.977,1)">0.6</text>
<text class="yl" transform="translate(1306.2,1363.1) scale(0.977,1)">0.8</text>
<path class="tk" d="M1308.2 1766.5h3.4M1308.2 1662.9h3.4M1308.2 1559.3h3.4M1308.2 1455.7h3.4M1308.2 1352.1h3.4M1355.4 1766.5v3.4M1399.15 1766.5v3.4M1442.9 1766.5v3.4M1486.65 1766.5v3.4M1530.4 1766.5v3.4M1574.15 1766.5v3.4M1617.9 1766.5v3.4"/>
<text class="xl" transform="translate(1363.5,1772) rotate(-90) scale(0.97,1)">ConVIRT</text>
<text class="xl" transform="translate(1407.25,1772) rotate(-90) scale(0.97,1)">GLoRIA</text>
<text class="xl" transform="translate(1451,1772) rotate(-90) scale(0.97,1)">BioVIL</text>
<text class="xl" transform="translate(1494.75,1772) rotate(-90) scale(0.97,1)">CheXzero</text>
<text class="xl" transform="translate(1538.5,1772) rotate(-90) scale(0.97,1)">MedKLIP</text>
<text class="xl" transform="translate(1582.25,1772) rotate(-90) scale(0.97,1)">KAD</text>
<text class="xl" transform="translate(1626,1772) rotate(-90) scale(0.97,1)">Radiologists</text>
<g stroke="#0000ff" fill="#0000ff"><path class="e" d="M1355.4 1550.6V1680.1"/><path class="c" d="M1351.2 1550.6h8.4M1351.2 1680.1h8.4"/><circle cx="1355.4" cy="1615.4" r="6.35" stroke="none"/></g>
<g stroke="#008000" fill="#008000"><path class="e" d="M1399.15 1475.6V1610.2"/><path class="c" d="M1394.95 1475.6h8.4M1394.95 1610.2h8.4"/><circle cx="1399.15" cy="1542.9" r="6.35" stroke="none"/></g>
<g stroke="#ff0000" fill="#ff0000"><path class="e" d="M1442.9 1515.9V1589.8"/><path class="c" d="M1438.7 1515.9h8.4M1438.7 1589.8h8.4"/><circle cx="1442.9" cy="1553" r="6.35" stroke="none"/></g>
<g stroke="#00bfbf" fill="#00bfbf"><path class="e" d="M1486.65 1447.7V1547.1"/><path class="c" d="M1482.45 1447.7h8.4M1482.45 1547.1h8.4"/><circle cx="1486.65" cy="1497.2" r="6.35" stroke="none"/></g>
<g stroke="#bfbf00" fill="#bfbf00"><path class="e" d="M1530.4 1443.7V1506.3"/><path class="c" d="M1526.2 1443.7h8.4M1526.2 1506.3h8.4"/><circle cx="1530.4" cy="1475.1" r="6.35" stroke="none"/></g>
<g stroke="#bf00bf" fill="#bf00bf"><path class="e" d="M1574.15 1393.9V1454.2"/><path class="c" d="M1569.95 1393.9h8.4M1569.95 1454.2h8.4"/><circle cx="1574.15" cy="1424" r="6.35" stroke="none"/></g>
<g stroke="#ffa500" fill="#ffa500"><path class="e" d="M1617.9 1468.1V1540.1"/><path class="c" d="M1613.7 1468.1h8.4M1613.7 1540.1h8.4"/><circle cx="1617.9" cy="1503.7" r="6.35" stroke="none"/></g>
</g>
<g>
<text class="ti" transform="translate(1886.2,1346.7) scale(0.977,1)">Pleural effusion</text>
<text class="ax" transform="translate(1662.65,1559.2) rotate(-90) scale(0.977,1)">MCC</text>
<path class="sp" d="M1722 1352.1V1766.5H2050.4"/>
<text class="yl" transform="translate(1716.6,1777.5) scale(0.977,1)">0.0</text>
<text class="yl" transform="translate(1716.6,1673.9) scale(0.977,1)">0.2</text>
<text class="yl" transform="translate(1716.6,1570.3) scale(0.977,1)">0.4</text>
<text class="yl" transform="translate(1716.6,1466.7) scale(0.977,1)">0.6</text>
<text class="yl" transform="translate(1716.6,1363.1) scale(0.977,1)">0.8</text>
<path class="tk" d="M1718.6 1766.5h3.4M1718.6 1662.9h3.4M1718.6 1559.3h3.4M1718.6 1455.7h3.4M1718.6 1352.1h3.4M1765.7 1766.5v3.4M1809.45 1766.5v3.4M1853.2 1766.5v3.4M1896.95 1766.5v3.4M1940.7 1766.5v3.4M1984.45 1766.5v3.4M2028.2 1766.5v3.4"/>
<text class="xl" transform="translate(1773.8,1772) rotate(-90) scale(0.97,1)">ConVIRT</text>
<text class="xl" transform="translate(1817.55,1772) rotate(-90) scale(0.97,1)">GLoRIA</text>
<text class="xl" transform="translate(1861.3,1772) rotate(-90) scale(0.97,1)">BioVIL</text>
<text class="xl" transform="translate(1905.05,1772) rotate(-90) scale(0.97,1)">CheXzero</text>
<text class="xl" transform="translate(1948.8,1772) rotate(-90) scale(0.97,1)">MedKLIP</text>
<text class="xl" transform="translate(1992.55,1772) rotate(-90) scale(0.97,1)">KAD</text>
<text class="xl" transform="translate(2036.3,1772) rotate(-90) scale(0.97,1)">Radiologists</text>
<g stroke="#0000ff" fill="#0000ff"><path class="e" d="M1765.7 1604.3V1684.3"/><path class="c" d="M1761.5 1604.3h8.4M1761.5 1684.3h8.4"/><circle cx="1765.7" cy="1644.5" r="6.35" stroke="none"/></g>
<g stroke="#008000" fill="#008000"><path class="e" d="M1809.45 1406.6V1469.2"/><path class="c" d="M1805.25 1406.6h8.4M1805.25 1469.2h8.4"/><circle cx="1809.45" cy="1438" r="6.35" stroke="none"/></g>
<g stroke="#ff0000" fill="#ff0000"><path class="e" d="M1853.2 1470.6V1548.3"/><path class="c" d="M1849 1470.6h8.4M1849 1548.3h8.4"/><circle cx="1853.2" cy="1509.6" r="6.35" stroke="none"/></g>
<g stroke="#00bfbf" fill="#00bfbf"><path class="e" d="M1896.95 1405.7V1477"/><path class="c" d="M1892.75 1405.7h8.4M1892.75 1477h8.4"/><circle cx="1896.95" cy="1441.3" r="6.35" stroke="none"/></g>
<g stroke="#bfbf00" fill="#bfbf00"><path class="e" d="M1940.7 1384.8V1442.3"/><path class="c" d="M1936.5 1384.8h8.4M1936.5 1442.3h8.4"/><circle cx="1940.7" cy="1413.6" r="6.35" stroke="none"/></g>
<g stroke="#bf00bf" fill="#bf00bf"><path class="e" d="M1984.45 1376.8V1427.3"/><path class="c" d="M1980.25 1376.8h8.4M1980.25 1427.3h8.4"/><circle cx="1984.45" cy="1402.4" r="6.35" stroke="none"/></g>
<g stroke="#ffa500" fill="#ffa500"><path class="e" d="M2028.2 1454.5V1511.5"/><path class="c" d="M2024 1454.5h8.4M2024 1511.5h8.4"/><circle cx="2028.2" cy="1482.8" r="6.35" stroke="none"/></g>
</g>
</svg></body></html>
